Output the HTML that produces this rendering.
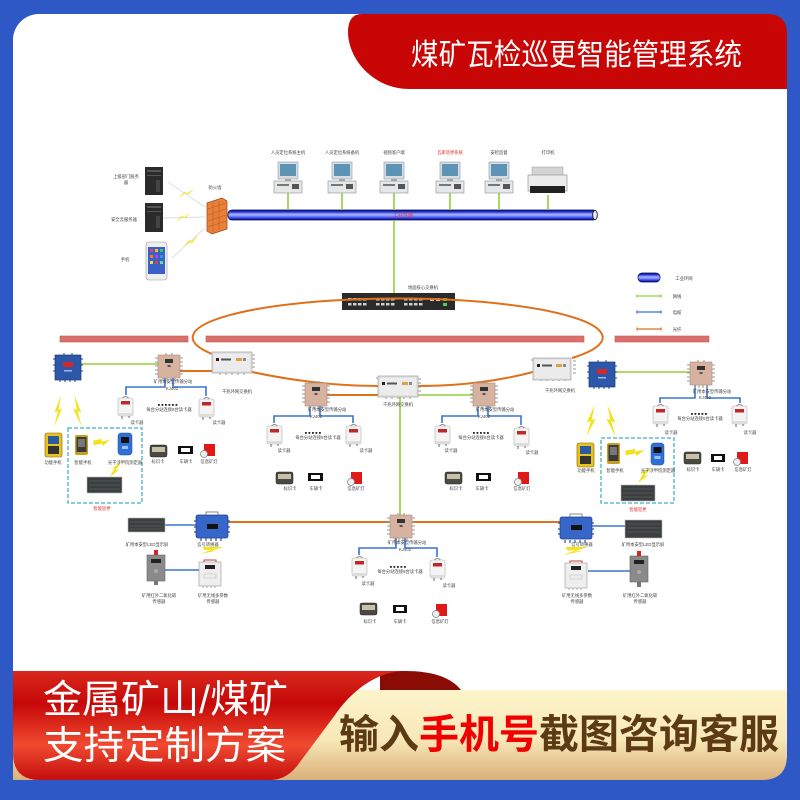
<!DOCTYPE html>
<html><head><meta charset="utf-8"><style>
html,body{margin:0;padding:0;background:#2d58c5;width:800px;height:800px;overflow:hidden}
svg{display:block}
.g{stroke:#8fd03a;stroke-width:1.6;fill:none}
.b{stroke:#3a74d0;stroke-width:1.6;fill:none}
.o{stroke:#e0701a;stroke-width:2;fill:none}
.t{font-size:4.3px;fill:#444;text-anchor:middle}
.bolt{fill:#f2e21a}
.st{stroke:#999;stroke-width:1.1}
</style></head><body>
<svg width="800" height="800" viewBox="0 0 800 800" xmlns="http://www.w3.org/2000/svg" font-family='"Liberation Sans","Noto Sans CJK SC",sans-serif'>
<defs>
<linearGradient id="pipe" x1="0" y1="0" x2="0" y2="1">
<stop offset="0" stop-color="#0e0e66"/><stop offset="0.18" stop-color="#2232d8"/><stop offset="0.45" stop-color="#aab8ff"/><stop offset="0.62" stop-color="#7888ff"/><stop offset="0.85" stop-color="#2232d8"/><stop offset="1" stop-color="#0e0e66"/>
</linearGradient>
<linearGradient id="redg" x1="0" y1="0" x2="0" y2="1">
<stop offset="0" stop-color="#d8281c"/><stop offset="0.3" stop-color="#c60808"/><stop offset="0.68" stop-color="#f04a30"/><stop offset="1" stop-color="#c40e0e"/>
</linearGradient>
<linearGradient id="cream" x1="0" y1="0" x2="0" y2="1">
<stop offset="0" stop-color="#fdf4cb"/><stop offset="0.55" stop-color="#f8e8b8"/><stop offset="1" stop-color="#dab07a"/>
</linearGradient>
</defs>

<!-- frame -->
<rect x="0" y="0" width="800" height="800" fill="#2d58c5"/>
<rect x="13" y="14" width="774" height="766" rx="26" fill="#ffffff"/>
<path d="M362 14 L767 14 Q787 14 787 34 L787 89 L410 89 C372 89 348 58 348 32 Q348 14 362 14 Z" fill="#c80606"/>
<text x="411" y="65" font-size="30" fill="#ffffff" textLength="331" lengthAdjust="spacingAndGlyphs">煤矿瓦检巡更智能管理系统</text>

<!-- ===== TOP SECTION ===== -->
<!-- servers -->
<rect x="145" y="167" width="18" height="28" fill="#2b2b2b"/>
<rect x="147" y="170" width="14" height="2" fill="#555"/><rect x="147" y="175" width="14" height="1" fill="#555"/><rect x="156" y="180" width="4" height="12" fill="#444"/>
<rect x="145" y="203" width="18" height="29" fill="#2b2b2b"/>
<rect x="147" y="206" width="14" height="2" fill="#555"/><rect x="147" y="211" width="14" height="1" fill="#555"/><rect x="156" y="216" width="4" height="12" fill="#444"/>
<!-- phone -->
<rect x="146" y="242" width="21" height="38" rx="3" fill="#eeeeee" stroke="#999" stroke-width=".6"/>
<rect x="148" y="247" width="17" height="27" fill="#3a60c8"/>
<rect x="150" y="249" width="3" height="3" fill="#e04080"/><rect x="155" y="249" width="3" height="3" fill="#f0c020"/><rect x="160" y="249" width="3" height="3" fill="#40c060"/>
<rect x="150" y="255" width="3" height="3" fill="#f08020"/><rect x="155" y="255" width="3" height="3" fill="#c040e0"/><rect x="160" y="255" width="3" height="3" fill="#20a0e0"/>
<rect x="150" y="261" width="3" height="3" fill="#e0e040"/><rect x="155" y="261" width="3" height="3" fill="#e04040"/><rect x="160" y="261" width="3" height="3" fill="#60e0a0"/>
<text class="t" x="126" y="178">上级部门服务</text><text class="t" x="126" y="184">器</text>
<text class="t" x="124" y="221">安全云服务器</text>
<text class="t" x="125" y="261">手机</text>
<!-- links to firewall -->
<path d="M168 182 L205 207 M163 218 L205 217 M172 258 L205 228" stroke="#dedede" stroke-width="1" fill="none"/>
<polygon class="bolt" transform="translate(178,188) scale(17,10)" points="0,1 0.42,0.35 0.48,0.6 1,0 0.58,0.68 0.52,0.42"/>
<polygon class="bolt" transform="translate(176,212) scale(15,10)" points="0,1 0.42,0.35 0.48,0.6 1,0 0.58,0.68 0.52,0.42"/>
<polygon class="bolt" transform="translate(183,235) scale(15,13)" points="0,1 0.42,0.35 0.48,0.6 1,0 0.58,0.68 0.52,0.42"/>
<!-- firewall -->
<polygon points="207,203 222,198 227,201 227,229 212,234 207,231" fill="#e8803a" stroke="#a04010" stroke-width=".7"/>
<path d="M208 209 L226 203 M208 215 L226 209 M208 221 L226 215 M208 227 L226 221 M213 203 V232 M219 201 V230" stroke="#b85418" stroke-width=".5"/>
<text class="t" x="215" y="189">防火墙</text>
<!-- pipe -->
<rect x="228" y="210" width="369" height="10" rx="4" fill="url(#pipe)" stroke="#0a0a50" stroke-width=".8"/>
<ellipse cx="595" cy="215" rx="2.3" ry="4.6" fill="#e8e8ff" stroke="#000" stroke-width=".8"/>
<text x="403" y="217" font-size="5" fill="#e03030" text-anchor="middle">工业环网</text>
<!-- green drops -->
<path class="g" d="M288 193 V210 M342 193 V210 M394 193 V210 M450 193 V210 M499 193 V210 M548 195 V210"/>
<path class="g" d="M394 220 V293"/>
<!-- computers -->
<g transform="translate(288,0)"><rect x="-10" y="162" width="20" height="17" fill="#d8dde2" stroke="#8a9aa8" stroke-width=".6"/><rect x="-8" y="164" width="16" height="12" fill="#5d93b5"/><rect x="-3" y="179" width="6" height="2" fill="#aaa"/><rect x="-14" y="181" width="28" height="12" fill="#e4e6e8" stroke="#8d9399" stroke-width=".6"/><rect x="-11" y="184" width="12" height="2" fill="#777"/><rect x="4" y="184" width="7" height="5" fill="#555"/></g>
<g transform="translate(342,0)"><rect x="-10" y="162" width="20" height="17" fill="#d8dde2" stroke="#8a9aa8" stroke-width=".6"/><rect x="-8" y="164" width="16" height="12" fill="#5d93b5"/><rect x="-3" y="179" width="6" height="2" fill="#aaa"/><rect x="-14" y="181" width="28" height="12" fill="#e4e6e8" stroke="#8d9399" stroke-width=".6"/><rect x="-11" y="184" width="12" height="2" fill="#777"/><rect x="4" y="184" width="7" height="5" fill="#555"/></g>
<g transform="translate(394,0)"><rect x="-10" y="162" width="20" height="17" fill="#d8dde2" stroke="#8a9aa8" stroke-width=".6"/><rect x="-8" y="164" width="16" height="12" fill="#5d93b5"/><rect x="-3" y="179" width="6" height="2" fill="#aaa"/><rect x="-14" y="181" width="28" height="12" fill="#e4e6e8" stroke="#8d9399" stroke-width=".6"/><rect x="-11" y="184" width="12" height="2" fill="#777"/><rect x="4" y="184" width="7" height="5" fill="#555"/></g>
<g transform="translate(450,0)"><rect x="-10" y="162" width="20" height="17" fill="#d8dde2" stroke="#8a9aa8" stroke-width=".6"/><rect x="-8" y="164" width="16" height="12" fill="#5d93b5"/><rect x="-3" y="179" width="6" height="2" fill="#aaa"/><rect x="-14" y="181" width="28" height="12" fill="#e4e6e8" stroke="#8d9399" stroke-width=".6"/><rect x="-11" y="184" width="12" height="2" fill="#777"/><rect x="4" y="184" width="7" height="5" fill="#555"/></g>
<g transform="translate(499,0)"><rect x="-10" y="162" width="20" height="17" fill="#d8dde2" stroke="#8a9aa8" stroke-width=".6"/><rect x="-8" y="164" width="16" height="12" fill="#5d93b5"/><rect x="-3" y="179" width="6" height="2" fill="#aaa"/><rect x="-14" y="181" width="28" height="12" fill="#e4e6e8" stroke="#8d9399" stroke-width=".6"/><rect x="-11" y="184" width="12" height="2" fill="#777"/><rect x="4" y="184" width="7" height="5" fill="#555"/></g>
<!-- printer -->
<rect x="532" y="167" width="31" height="9" fill="#d4d4d4" stroke="#999" stroke-width=".5"/>
<rect x="528" y="175" width="39" height="16" fill="#ececec" stroke="#888" stroke-width=".6"/>
<rect x="530" y="186" width="35" height="7" fill="#222"/>
<text class="t" x="288" y="154">人员定位系统主机</text>
<text class="t" x="342" y="154">人员定位系统备机</text>
<text class="t" x="394" y="154">视频客户端</text>
<text class="t" x="450" y="154" style="fill:#e03030">瓦斯巡更系统</text>
<text class="t" x="499" y="154">安检监督</text>
<text class="t" x="548" y="154">打印机</text>
<!-- core switch -->
<rect x="342" y="293" width="113" height="17" fill="#2b2b2b"/>
<g fill="#cfcfcf">
<rect x="348" y="298" width="3.5" height="2.5"/><rect x="353" y="298" width="3.5" height="2.5"/><rect x="358" y="298" width="3.5" height="2.5"/><rect x="363" y="298" width="3.5" height="2.5"/>
<rect x="348" y="303" width="3.5" height="2.5"/><rect x="353" y="303" width="3.5" height="2.5"/><rect x="358" y="303" width="3.5" height="2.5"/><rect x="363" y="303" width="3.5" height="2.5"/>
<rect x="376" y="298" width="3.5" height="2.5"/><rect x="381" y="298" width="3.5" height="2.5"/><rect x="386" y="298" width="3.5" height="2.5"/><rect x="391" y="298" width="3.5" height="2.5"/>
<rect x="376" y="303" width="3.5" height="2.5"/><rect x="381" y="303" width="3.5" height="2.5"/><rect x="386" y="303" width="3.5" height="2.5"/><rect x="391" y="303" width="3.5" height="2.5"/>
<rect x="404" y="298" width="3.5" height="2.5"/><rect x="409" y="298" width="3.5" height="2.5"/><rect x="414" y="298" width="3.5" height="2.5"/><rect x="419" y="298" width="3.5" height="2.5"/>
<rect x="404" y="303" width="3.5" height="2.5"/><rect x="409" y="303" width="3.5" height="2.5"/><rect x="414" y="303" width="3.5" height="2.5"/><rect x="419" y="303" width="3.5" height="2.5"/>
<rect x="430" y="298" width="4" height="3"/><rect x="436" y="298" width="4" height="3"/>
</g>
<rect x="443" y="298" width="4" height="3" fill="#5c5"/><rect x="443" y="303" width="4" height="3" fill="#5c5"/>
<text class="t" x="423" y="289">地面核心交换机</text>

<!-- legend -->
<rect x="638" y="273" width="22" height="9" rx="4" fill="url(#pipe)" stroke="#0a0a50" stroke-width=".7"/>
<text class="t" x="684" y="280">工业环网</text>
<path d="M637 296 H661 M637 294.5 V297.5 M661 294.5 V297.5" stroke="#8fd03a" stroke-width="1.2" fill="none"/>
<text class="t" x="677" y="298">网线</text>
<path d="M637 312 H661 M637 310.5 V313.5 M661 310.5 V313.5" stroke="#3a74d0" stroke-width="1.2" fill="none"/>
<text class="t" x="677" y="314">电缆</text>
<path d="M637 329 H661 M637 327.5 V330.5 M661 327.5 V330.5" stroke="#e0701a" stroke-width="1.2" fill="none"/>
<text class="t" x="677" y="331">光纤</text>

<!-- red bars -->
<rect x="60" y="336" width="128" height="6" fill="#d9706a" stroke="#c05a55" stroke-width=".6"/>
<rect x="206" y="336" width="378" height="6" fill="#d9706a" stroke="#c05a55" stroke-width=".6"/>
<rect x="615" y="336" width="94" height="6" fill="#d9706a" stroke="#c05a55" stroke-width=".6"/>

<!-- orange ring -->
<path class="o" d="M212 354 A205 39 0 1 1 572 358"/>
<path class="o" d="M252 372 Q318 386 378 386"/>
<path class="o" d="M418 386 Q480 386 533 372"/>
<path class="o" d="M180 371 H212"/>
<path class="o" d="M327 395 H378"/>

<!-- green connections middle -->
<path class="g" d="M81 364 H158"/>
<path class="g" d="M418 395 H473"/>
<path class="g" d="M615 372 H690"/>
<path class="g" d="M400 397 V515"/>

<!-- blue cables -->
<path class="b" d="M165 378 V387 H126 V395 M173 378 V387 H206 V396"/>
<path class="b" d="M310 406 V416 H274 V423 M320 406 V416 H353 V423"/>
<path class="b" d="M478 406 V416 H442 V423 M488 406 V416 H521 V425"/>
<path class="b" d="M695 385 V398 H660 V403 M707 385 V398 H740 V403"/>
<path class="b" d="M396 538 V548 H359 V555 M405 538 V548 H437 V557"/>
<path class="b" d="M165 525 H196 M592 526 H625 M165 570 H199 M588 571 H630"/>

<!-- bottom orange -->
<path class="o" d="M228 522 H390 M412 522 H560"/>

<!-- ===== DEVICES ===== -->
<!-- blue boxes -->
<g transform="translate(55,355)"><path d="M-2 4h2M-2 10h2M-2 16h2M26 4h2M26 10h2M26 16h2M5 25v2M10 25v2M15 25v2M20 25v2M9 0v-2M17 0v-2" stroke="#2a4a90" stroke-width="1"/><rect width="26" height="25" fill="#2d57a8" stroke="#1b3a78" stroke-width=".7"/><rect x="8" y="7" width="10" height="5" fill="#d02828"/><rect x="9" y="15" width="8" height="1.5" fill="#a0b8e8"/></g>
<g transform="translate(589,362)"><path d="M-2 4h2M-2 10h2M-2 16h2M26 4h2M26 10h2M26 16h2M5 25v2M10 25v2M15 25v2M20 25v2M9 0v-2M17 0v-2" stroke="#2a4a90" stroke-width="1"/><rect width="26" height="25" fill="#2d57a8" stroke="#1b3a78" stroke-width=".7"/><rect x="8" y="7" width="10" height="5" fill="#d02828"/><rect x="9" y="15" width="8" height="1.5" fill="#a0b8e8"/></g>

<!-- substations -->
<g transform="translate(158,355)"><path class="st" d="M-3 3h3M-3 7h3M-3 11h3M-3 15h3M-3 19h3M22 3h3M22 7h3M22 11h3M22 15h3M22 19h3M5 23v3M9 23v3M13 23v3M17 23v3M8 0v-2M14 0v-2"/><rect width="22" height="23" fill="#d8b2a0" stroke="#a88a80" stroke-width=".6"/><rect x="7" y="4" width="8" height="4" fill="#333"/><rect x="9.5" y="10" width="3" height="2" fill="#555"/></g>
<g transform="translate(305,383)"><path class="st" d="M-3 3h3M-3 7h3M-3 11h3M-3 15h3M-3 19h3M22 3h3M22 7h3M22 11h3M22 15h3M22 19h3M5 23v3M9 23v3M13 23v3M17 23v3M8 0v-2M14 0v-2"/><rect width="22" height="23" fill="#d8b2a0" stroke="#a88a80" stroke-width=".6"/><rect x="7" y="4" width="8" height="4" fill="#333"/><rect x="9.5" y="10" width="3" height="2" fill="#555"/></g>
<g transform="translate(473,383)"><path class="st" d="M-3 3h3M-3 7h3M-3 11h3M-3 15h3M-3 19h3M22 3h3M22 7h3M22 11h3M22 15h3M22 19h3M5 23v3M9 23v3M13 23v3M17 23v3M8 0v-2M14 0v-2"/><rect width="22" height="23" fill="#d8b2a0" stroke="#a88a80" stroke-width=".6"/><rect x="7" y="4" width="8" height="4" fill="#333"/><rect x="9.5" y="10" width="3" height="2" fill="#555"/></g>
<g transform="translate(690,362)"><path class="st" d="M-3 3h3M-3 7h3M-3 11h3M-3 15h3M-3 19h3M22 3h3M22 7h3M22 11h3M22 15h3M22 19h3M5 23v3M9 23v3M13 23v3M17 23v3M8 0v-2M14 0v-2"/><rect width="22" height="23" fill="#d8b2a0" stroke="#a88a80" stroke-width=".6"/><rect x="7" y="4" width="8" height="4" fill="#333"/><rect x="9.5" y="10" width="3" height="2" fill="#555"/></g>
<g transform="translate(390,515)"><path class="st" d="M-3 3h3M-3 7h3M-3 11h3M-3 15h3M-3 19h3M22 3h3M22 7h3M22 11h3M22 15h3M22 19h3M5 23v3M9 23v3M13 23v3M17 23v3M8 0v-2M14 0v-2"/><rect width="22" height="23" fill="#d8b2a0" stroke="#a88a80" stroke-width=".6"/><rect x="7" y="4" width="8" height="4" fill="#333"/><rect x="9.5" y="10" width="3" height="2" fill="#555"/></g>

<!-- ring switches -->
<g transform="translate(212,352)"><path d="M40 3h3M40 7h3M40 11h3M40 15h3M8 21v2M14 21v2M20 21v2M26 21v2M32 21v2M-2 2h2" stroke="#999" stroke-width="1"/><rect width="40" height="21" fill="#e2e2e2" stroke="#a0a0a0" stroke-width=".7"/><rect x="2" y="2" width="36" height="17" fill="#ececec"/><rect x="4" y="6" width="3" height="3" fill="#222"/><rect x="9" y="6.5" width="10" height="2" fill="#555"/><rect x="24" y="6" width="6" height="3" fill="#e0a040"/><rect x="31" y="6" width="3" height="3" fill="#888"/></g>
<g transform="translate(378,376)"><path d="M40 3h3M40 7h3M40 11h3M40 15h3M8 21v2M14 21v2M20 21v2M26 21v2M32 21v2M-2 2h2" stroke="#999" stroke-width="1"/><rect width="40" height="21" fill="#e2e2e2" stroke="#a0a0a0" stroke-width=".7"/><rect x="2" y="2" width="36" height="17" fill="#ececec"/><rect x="4" y="6" width="3" height="3" fill="#222"/><rect x="9" y="6.5" width="10" height="2" fill="#555"/><rect x="24" y="6" width="6" height="3" fill="#e0a040"/><rect x="31" y="6" width="3" height="3" fill="#888"/></g>
<g transform="translate(533,358)"><path d="M40 3h3M40 7h3M40 11h3M40 15h3M8 21v2M14 21v2M20 21v2M26 21v2M32 21v2M-2 2h2" stroke="#999" stroke-width="1"/><rect width="38" height="22" fill="#e2e2e2" stroke="#a0a0a0" stroke-width=".7"/><rect x="2" y="2" width="34" height="18" fill="#ececec"/><rect x="4" y="6" width="3" height="3" fill="#222"/><rect x="9" y="6.5" width="10" height="2" fill="#555"/><rect x="23" y="6" width="6" height="3" fill="#e0a040"/><rect x="30" y="6" width="3" height="3" fill="#888"/></g>

<!-- labels for switches/substations -->
<text class="t" x="173" y="383">矿用本安型传输分站</text><text class="t" x="172" y="390">KJ402</text>
<text class="t" x="237" y="393">千兆环网交换机</text>
<text class="t" x="327" y="411">矿用本安型传输分站</text><text class="t" x="316" y="418">KJ402</text>
<text class="t" x="398" y="406">千兆环网交换机</text>
<text class="t" x="495" y="411">矿用本安型传输分站</text><text class="t" x="484" y="418">KJ402</text>
<text class="t" x="560" y="392">千兆环网交换机</text>
<text class="t" x="712" y="393">矿用本安型传输分站</text><text class="t" x="705" y="399">KJ402</text>
<text class="t" x="407" y="544">矿用本安型传输分站</text><text class="t" x="405" y="551">KJ402</text>

<!-- card readers -->
<g transform="translate(118,395)"><path d="M3.5 4 Q7.5 -1 11.5 4" fill="none" stroke="#777" stroke-width=".8"/><rect y="3" width="15" height="18" rx="2" fill="#f4f4f4" stroke="#b0b0b0" stroke-width=".6"/><rect x="3" y="6" width="9" height="3.5" fill="#c02828"/><rect x="1" y="18" width="13" height="3" fill="#ddd"/><path d="M4 21v3M11 21v2" stroke="#444" stroke-width=".8"/></g>
<g transform="translate(199,396)"><path d="M3.5 4 Q7.5 -1 11.5 4" fill="none" stroke="#777" stroke-width=".8"/><rect y="3" width="15" height="18" rx="2" fill="#f4f4f4" stroke="#b0b0b0" stroke-width=".6"/><rect x="3" y="6" width="9" height="3.5" fill="#c02828"/><rect x="1" y="18" width="13" height="3" fill="#ddd"/><path d="M4 21v3M11 21v2" stroke="#444" stroke-width=".8"/></g>
<g transform="translate(267,423)"><path d="M3.5 4 Q7.5 -1 11.5 4" fill="none" stroke="#777" stroke-width=".8"/><rect y="3" width="15" height="18" rx="2" fill="#f4f4f4" stroke="#b0b0b0" stroke-width=".6"/><rect x="3" y="6" width="9" height="3.5" fill="#c02828"/><rect x="1" y="18" width="13" height="3" fill="#ddd"/><path d="M4 21v3M11 21v2" stroke="#444" stroke-width=".8"/></g>
<g transform="translate(346,423)"><path d="M3.5 4 Q7.5 -1 11.5 4" fill="none" stroke="#777" stroke-width=".8"/><rect y="3" width="15" height="18" rx="2" fill="#f4f4f4" stroke="#b0b0b0" stroke-width=".6"/><rect x="3" y="6" width="9" height="3.5" fill="#c02828"/><rect x="1" y="18" width="13" height="3" fill="#ddd"/><path d="M4 21v3M11 21v2" stroke="#444" stroke-width=".8"/></g>
<g transform="translate(435,423)"><path d="M3.5 4 Q7.5 -1 11.5 4" fill="none" stroke="#777" stroke-width=".8"/><rect y="3" width="15" height="18" rx="2" fill="#f4f4f4" stroke="#b0b0b0" stroke-width=".6"/><rect x="3" y="6" width="9" height="3.5" fill="#c02828"/><rect x="1" y="18" width="13" height="3" fill="#ddd"/><path d="M4 21v3M11 21v2" stroke="#444" stroke-width=".8"/></g>
<g transform="translate(514,425)"><path d="M3.5 4 Q7.5 -1 11.5 4" fill="none" stroke="#777" stroke-width=".8"/><rect y="3" width="15" height="18" rx="2" fill="#f4f4f4" stroke="#b0b0b0" stroke-width=".6"/><rect x="3" y="6" width="9" height="3.5" fill="#c02828"/><rect x="1" y="18" width="13" height="3" fill="#ddd"/><path d="M4 21v3M11 21v2" stroke="#444" stroke-width=".8"/></g>
<g transform="translate(653,403)"><path d="M3.5 4 Q7.5 -1 11.5 4" fill="none" stroke="#777" stroke-width=".8"/><rect y="3" width="15" height="18" rx="2" fill="#f4f4f4" stroke="#b0b0b0" stroke-width=".6"/><rect x="3" y="6" width="9" height="3.5" fill="#c02828"/><rect x="1" y="18" width="13" height="3" fill="#ddd"/><path d="M4 21v3M11 21v2" stroke="#444" stroke-width=".8"/></g>
<g transform="translate(732,403)"><path d="M3.5 4 Q7.5 -1 11.5 4" fill="none" stroke="#777" stroke-width=".8"/><rect y="3" width="15" height="18" rx="2" fill="#f4f4f4" stroke="#b0b0b0" stroke-width=".6"/><rect x="3" y="6" width="9" height="3.5" fill="#c02828"/><rect x="1" y="18" width="13" height="3" fill="#ddd"/><path d="M4 21v3M11 21v2" stroke="#444" stroke-width=".8"/></g>
<g transform="translate(352,555)"><path d="M3.5 4 Q7.5 -1 11.5 4" fill="none" stroke="#777" stroke-width=".8"/><rect y="3" width="15" height="18" rx="2" fill="#f4f4f4" stroke="#b0b0b0" stroke-width=".6"/><rect x="3" y="6" width="9" height="3.5" fill="#c02828"/><rect x="1" y="18" width="13" height="3" fill="#ddd"/><path d="M4 21v3M11 21v2" stroke="#444" stroke-width=".8"/></g>
<g transform="translate(430,557)"><path d="M3.5 4 Q7.5 -1 11.5 4" fill="none" stroke="#777" stroke-width=".8"/><rect y="3" width="15" height="18" rx="2" fill="#f4f4f4" stroke="#b0b0b0" stroke-width=".6"/><rect x="3" y="6" width="9" height="3.5" fill="#c02828"/><rect x="1" y="18" width="13" height="3" fill="#ddd"/><path d="M4 21v3M11 21v2" stroke="#444" stroke-width=".8"/></g>
<text class="t" x="137" y="424">读卡器</text><text class="t" x="219" y="424">读卡器</text>
<text class="t" x="284" y="452">读卡器</text><text class="t" x="366" y="452">读卡器</text>
<text class="t" x="451" y="452">读卡器</text><text class="t" x="532" y="454">读卡器</text>
<text class="t" x="671" y="434">读卡器</text><text class="t" x="750" y="434">读卡器</text>
<text class="t" x="368" y="585">读卡器</text><text class="t" x="449" y="587">读卡器</text>

<!-- dots + notes -->
<g fill="#222">
<rect x="158" y="404" width="1.8" height="1.8"/><rect x="161.5" y="404" width="1.8" height="1.8"/><rect x="165" y="404" width="1.8" height="1.8"/><rect x="168.5" y="404" width="1.8" height="1.8"/><rect x="172" y="404" width="1.8" height="1.8"/><rect x="175.5" y="404" width="1.8" height="1.8"/>
<rect x="305" y="432" width="1.8" height="1.8"/><rect x="308.5" y="432" width="1.8" height="1.8"/><rect x="312" y="432" width="1.8" height="1.8"/><rect x="315.5" y="432" width="1.8" height="1.8"/><rect x="319" y="432" width="1.8" height="1.8"/>
<rect x="473" y="432" width="1.8" height="1.8"/><rect x="476.5" y="432" width="1.8" height="1.8"/><rect x="480" y="432" width="1.8" height="1.8"/><rect x="483.5" y="432" width="1.8" height="1.8"/><rect x="487" y="432" width="1.8" height="1.8"/>
<rect x="691" y="413" width="1.8" height="1.8"/><rect x="694.5" y="413" width="1.8" height="1.8"/><rect x="698" y="413" width="1.8" height="1.8"/><rect x="701.5" y="413" width="1.8" height="1.8"/><rect x="705" y="413" width="1.8" height="1.8"/>
<rect x="390" y="566" width="1.8" height="1.8"/><rect x="393.5" y="566" width="1.8" height="1.8"/><rect x="397" y="566" width="1.8" height="1.8"/><rect x="400.5" y="566" width="1.8" height="1.8"/><rect x="404" y="566" width="1.8" height="1.8"/>
</g>
<text class="t" x="169" y="411">每台分站连接8台读卡器</text>
<text class="t" x="318" y="439">每台分站连接8台读卡器</text>
<text class="t" x="481" y="439">每台分站连接8台读卡器</text>
<text class="t" x="700" y="420">每台分站连接8台读卡器</text>
<text class="t" x="400" y="573">每台分站连接8台读卡器</text>

<!-- small devices: recorder / card / lamp -->
<g id="dv1">
<rect x="150" y="445" width="17" height="12" rx="2" fill="#4a4a42" stroke="#222" stroke-width=".5"/><rect x="152" y="447" width="13" height="5" fill="#c8c0a8"/>
<rect x="178" y="446" width="15" height="8" fill="#111"/><rect x="181" y="448" width="9" height="4" fill="#fff"/>
<rect x="204" y="444" width="11" height="12" fill="#e01818"/><circle cx="204" cy="454" r="3.5" fill="#eee" stroke="#888" stroke-width=".8"/>
</g>
<rect x="276" y="472" width="17" height="12" rx="2" fill="#4a4a42" stroke="#222" stroke-width=".5"/><rect x="278" y="474" width="13" height="5" fill="#c8c0a8"/>
<rect x="308" y="473" width="15" height="8" fill="#111"/><rect x="311" y="475" width="9" height="4" fill="#fff"/>
<rect x="351" y="472" width="11" height="12" fill="#e01818"/><circle cx="351" cy="482" r="3.5" fill="#eee" stroke="#888" stroke-width=".8"/>
<rect x="445" y="472" width="17" height="12" rx="2" fill="#4a4a42" stroke="#222" stroke-width=".5"/><rect x="447" y="474" width="13" height="5" fill="#c8c0a8"/>
<rect x="476" y="473" width="15" height="8" fill="#111"/><rect x="479" y="475" width="9" height="4" fill="#fff"/>
<rect x="518" y="472" width="11" height="12" fill="#e01818"/><circle cx="518" cy="482" r="3.5" fill="#eee" stroke="#888" stroke-width=".8"/>
<rect x="684" y="452" width="17" height="12" rx="2" fill="#4a4a42" stroke="#222" stroke-width=".5"/><rect x="686" y="454" width="13" height="5" fill="#c8c0a8"/>
<rect x="711" y="454" width="14" height="8" fill="#111"/><rect x="714" y="456" width="8" height="4" fill="#fff"/>
<rect x="737" y="452" width="11" height="12" fill="#e01818"/><circle cx="737" cy="462" r="3.5" fill="#eee" stroke="#888" stroke-width=".8"/>
<rect x="360" y="603" width="17" height="12" rx="2" fill="#4a4a42" stroke="#222" stroke-width=".5"/><rect x="362" y="605" width="13" height="5" fill="#c8c0a8"/>
<rect x="393" y="605" width="14" height="8" fill="#111"/><rect x="396" y="607" width="8" height="4" fill="#fff"/>
<rect x="436" y="604" width="11" height="12" fill="#e01818"/><circle cx="436" cy="614" r="3.5" fill="#eee" stroke="#888" stroke-width=".8"/>
<text class="t" x="158" y="463">标识卡</text><text class="t" x="186" y="463">车辆卡</text><text class="t" x="209" y="463">信息矿灯</text>
<text class="t" x="290" y="490">标识卡</text><text class="t" x="316" y="490">车辆卡</text><text class="t" x="356" y="490">信息矿灯</text>
<text class="t" x="456" y="490">标识卡</text><text class="t" x="482" y="490">车辆卡</text><text class="t" x="522" y="490">信息矿灯</text>
<text class="t" x="693" y="471">标识卡</text><text class="t" x="718" y="471">车辆卡</text><text class="t" x="743" y="471">信息矿灯</text>
<text class="t" x="370" y="623">标识卡</text><text class="t" x="400" y="623">车辆卡</text><text class="t" x="440" y="623">信息矿灯</text>

<!-- left wireless group -->
<polygon class="bolt" transform="translate(53,395) scale(10,32)" points="0.8,0 0.15,0.55 0.5,0.5 0.1,1 0.9,0.42 0.55,0.47"/>
<polygon class="bolt" transform="translate(72,395) scale(11,32)" points="0.2,0 0.85,0.55 0.5,0.5 0.9,1 0.1,0.42 0.45,0.47"/>
<g transform="translate(45,433)"><rect width="17" height="24" rx="2" fill="#e8c21e" stroke="#806000" stroke-width=".6"/><rect x="3" y="3" width="11" height="8" fill="#2a5aa0"/><rect x="3" y="13" width="11" height="8" fill="#333"/></g>
<rect x="68" y="428" width="74" height="75" fill="none" stroke="#3fb0cc" stroke-width="1.3" stroke-dasharray="4 2"/>
<g transform="translate(75,435)"><rect width="13" height="20" rx="2" fill="#c8a020"/><rect x="1.5" y="2" width="10" height="15" fill="#3a3a3a"/><rect x="3" y="4" width="7" height="8" fill="#777"/></g>
<polygon class="bolt" transform="translate(93,438) scale(17,9)" points="0,0.3 0.5,0.1 0.5,0.4 1,0.2 0.55,0.9 0.55,0.6 0.05,0.8"/>
<g transform="translate(118,433)"><rect width="14" height="22" rx="3" fill="#2e6fd8" stroke="#1a4a9a" stroke-width=".5"/><rect x="3" y="4" width="8" height="6" fill="#111"/><rect x="4" y="13" width="6" height="3" fill="#9cc0f0"/></g>
<polygon class="bolt" transform="translate(110,462) scale(13,15)" points="0.9,0 0.4,0.55 0.7,0.5 0,1 0.35,0.4 0.1,0.45"/>
<rect x="87" y="477" width="35" height="16" fill="#3b3f3f" stroke="#bbb" stroke-width=".6"/>
<path d="M89 481 H120 M89 485 H120 M89 489 H120" stroke="#777" stroke-width=".4"/>
<text class="t" x="53" y="464">功能手机</text><text class="t" x="83" y="464">智能手机</text><text class="t" x="125" y="464">光干涉甲烷测定器</text>
<text class="t" x="102" y="510" style="fill:#e03030">智能巡更</text>

<!-- right wireless group -->
<polygon class="bolt" transform="translate(585,405) scale(12,32)" points="0.8,0 0.15,0.55 0.5,0.5 0.1,1 0.9,0.42 0.55,0.47"/>
<polygon class="bolt" transform="translate(605,405) scale(12,32)" points="0.2,0 0.85,0.55 0.5,0.5 0.9,1 0.1,0.42 0.45,0.47"/>
<g transform="translate(577,443)"><rect width="17" height="24" rx="2" fill="#e8c21e" stroke="#806000" stroke-width=".6"/><rect x="3" y="3" width="11" height="8" fill="#2a5aa0"/><rect x="3" y="13" width="11" height="8" fill="#333"/></g>
<rect x="601" y="438" width="73" height="65" fill="none" stroke="#3fb0cc" stroke-width="1.3" stroke-dasharray="4 2"/>
<g transform="translate(607,443)"><rect width="13" height="21" rx="2" fill="#c8a020"/><rect x="1.5" y="2" width="10" height="16" fill="#3a3a3a"/><rect x="3" y="4" width="7" height="8" fill="#777"/></g>
<polygon class="bolt" transform="translate(625,448) scale(20,9)" points="0,0.3 0.5,0.1 0.5,0.4 1,0.2 0.55,0.9 0.55,0.6 0.05,0.8"/>
<g transform="translate(651,443)"><rect width="13" height="22" rx="3" fill="#2e6fd8" stroke="#1a4a9a" stroke-width=".5"/><rect x="2.5" y="4" width="8" height="6" fill="#111"/><rect x="3.5" y="13" width="6" height="3" fill="#9cc0f0"/></g>
<polygon class="bolt" transform="translate(638,467) scale(15,16)" points="0.9,0 0.4,0.55 0.7,0.5 0,1 0.35,0.4 0.1,0.45"/>
<rect x="621" y="485" width="34" height="16" fill="#3b3f3f" stroke="#bbb" stroke-width=".6"/>
<path d="M623 489 H653 M623 493 H653 M623 497 H653" stroke="#777" stroke-width=".4"/>
<text class="t" x="586" y="472">功能手机</text><text class="t" x="615" y="472">智能手机</text><text class="t" x="658" y="472">光干涉甲烷测定器</text>
<text class="t" x="638" y="511" style="fill:#e03030">智能巡更</text>

<!-- bottom left -->
<rect x="128" y="518" width="37" height="14" fill="#3b3f3f" stroke="#bbb" stroke-width=".6"/>
<path d="M130 522 H163 M130 526 H163 M130 529 H163" stroke="#777" stroke-width=".4"/>
<text class="t" x="147" y="546">矿用本安型LED显示屏</text>
<g transform="translate(196,515)"><path d="M10 0v-3h12v3" fill="none" stroke="#888" stroke-width="1"/><path d="M-2 6h2M-2 12h2M-2 17h2M32 6h2M32 12h2M32 17h2M5 23v3M10 23v3M15 23v3M20 23v3M25 23v3" stroke="#2b50a0" stroke-width="1.2"/><rect width="32" height="23" rx="2" fill="#3566c8" stroke="#1f3f90" stroke-width=".7"/><rect x="11" y="9" width="11" height="5" fill="#111"/></g>
<text class="t" x="208" y="546">信号转换器</text>
<polygon class="bolt" transform="translate(200,547) scale(23,7)" points="0.1,0 1,0 0.45,0.55 0.8,0.5 0,1 0.5,0.4 0.2,0.45"/>
<g transform="translate(147,553)"><rect x="7" y="-3" width="4" height="5" fill="#e02020"/><rect x="0" y="2" width="18" height="26" fill="#8a8a8a" stroke="#666" stroke-width=".6"/><rect x="4" y="6" width="10" height="4" fill="#222"/><circle cx="9" cy="18" r="2" fill="#aaa"/><rect x="7" y="28" width="4" height="4" fill="#777"/></g>
<g transform="translate(199,560)"><path d="M5 3 V0 H17 V3" fill="none" stroke="#c04040" stroke-width="1"/><rect y="2" width="22" height="24" fill="#eeeeee" stroke="#999" stroke-width=".6"/><rect x="6" y="5" width="10" height="4" fill="#222"/><rect x="5" y="14" width="12" height="4" fill="none" stroke="#bbb" stroke-width=".5"/><path d="M4 26v2M8 26v2M12 26v2M16 26v2" stroke="#999" stroke-width=".8"/></g>
<text class="t" x="159" y="597">矿用红外二氧化碳</text><text class="t" x="159" y="603">传感器</text>
<text class="t" x="213" y="597">矿用无线多参数</text><text class="t" x="213" y="603">传感器</text>

<!-- bottom right -->
<g transform="translate(560,517)"><path d="M10 0v-3h12v3" fill="none" stroke="#888" stroke-width="1"/><path d="M-2 6h2M-2 12h2M-2 17h2M32 6h2M32 12h2M32 17h2M5 23v3M10 23v3M15 23v3M20 23v3M25 23v3" stroke="#2b50a0" stroke-width="1.2"/><rect width="32" height="22" rx="2" fill="#3566c8" stroke="#1f3f90" stroke-width=".7"/><rect x="11" y="8" width="11" height="5" fill="#111"/></g>
<text class="t" x="582" y="546">信号转换器</text>
<rect x="625" y="520" width="37" height="18" fill="#3b3f3f" stroke="#bbb" stroke-width=".6"/>
<path d="M627 524 H660 M627 528 H660 M627 532 H660" stroke="#777" stroke-width=".4"/>
<text class="t" x="643" y="546">矿用本安型LED显示屏</text>
<polygon class="bolt" transform="translate(563,547) scale(25,8)" points="0.1,0 1,0 0.45,0.55 0.8,0.5 0,1 0.5,0.4 0.2,0.45"/>
<g transform="translate(565,561)"><path d="M5 3 V0 H17 V3" fill="none" stroke="#c04040" stroke-width="1"/><rect y="2" width="22" height="25" fill="#eeeeee" stroke="#999" stroke-width=".6"/><rect x="6" y="5" width="10" height="4" fill="#222"/><rect x="5" y="14" width="12" height="4" fill="none" stroke="#bbb" stroke-width=".5"/><path d="M4 27v2M8 27v2M12 27v2M16 27v2" stroke="#999" stroke-width=".8"/></g>
<g transform="translate(630,554)"><rect x="7" y="-3" width="4" height="5" fill="#e02020"/><rect x="0" y="2" width="18" height="26" fill="#8a8a8a" stroke="#666" stroke-width=".6"/><rect x="4" y="6" width="10" height="4" fill="#222"/><circle cx="9" cy="18" r="2" fill="#aaa"/><rect x="7" y="28" width="4" height="5" fill="#777"/></g>
<text class="t" x="577" y="597">矿用无线多参数</text><text class="t" x="577" y="603">传感器</text>
<text class="t" x="640" y="597">矿用红外二氧化碳</text><text class="t" x="640" y="603">传感器</text>

<!-- ===== BOTTOM BANNER ===== -->
<path d="M13 690 L787 690 L787 755 Q787 780 762 780 L13 780 Z" fill="url(#cream)"/>
<path d="M380 690 L461 690 Q446 671 405 671 L380 671 Z" fill="#8a0c04"/>
<path d="M13 671 L405 671 C378 671 352 690 335 715 L300 762 Q288 780 270 780 L40 780 Q13 780 13 753 Z" fill="url(#redg)"/>
<text x="43" y="713" font-size="39" fill="#ffffff" textLength="245" lengthAdjust="spacingAndGlyphs">金属矿山/煤矿</text>
<text x="43" y="759" font-size="39" fill="#ffffff" textLength="243" lengthAdjust="spacingAndGlyphs">支持定制方案</text>
<text x="339" y="748" font-size="40" font-weight="bold" fill="#5c3a12">输入<tspan fill="#f00000">手机号</tspan>截图咨询客服</text>
</svg>
</body></html>
